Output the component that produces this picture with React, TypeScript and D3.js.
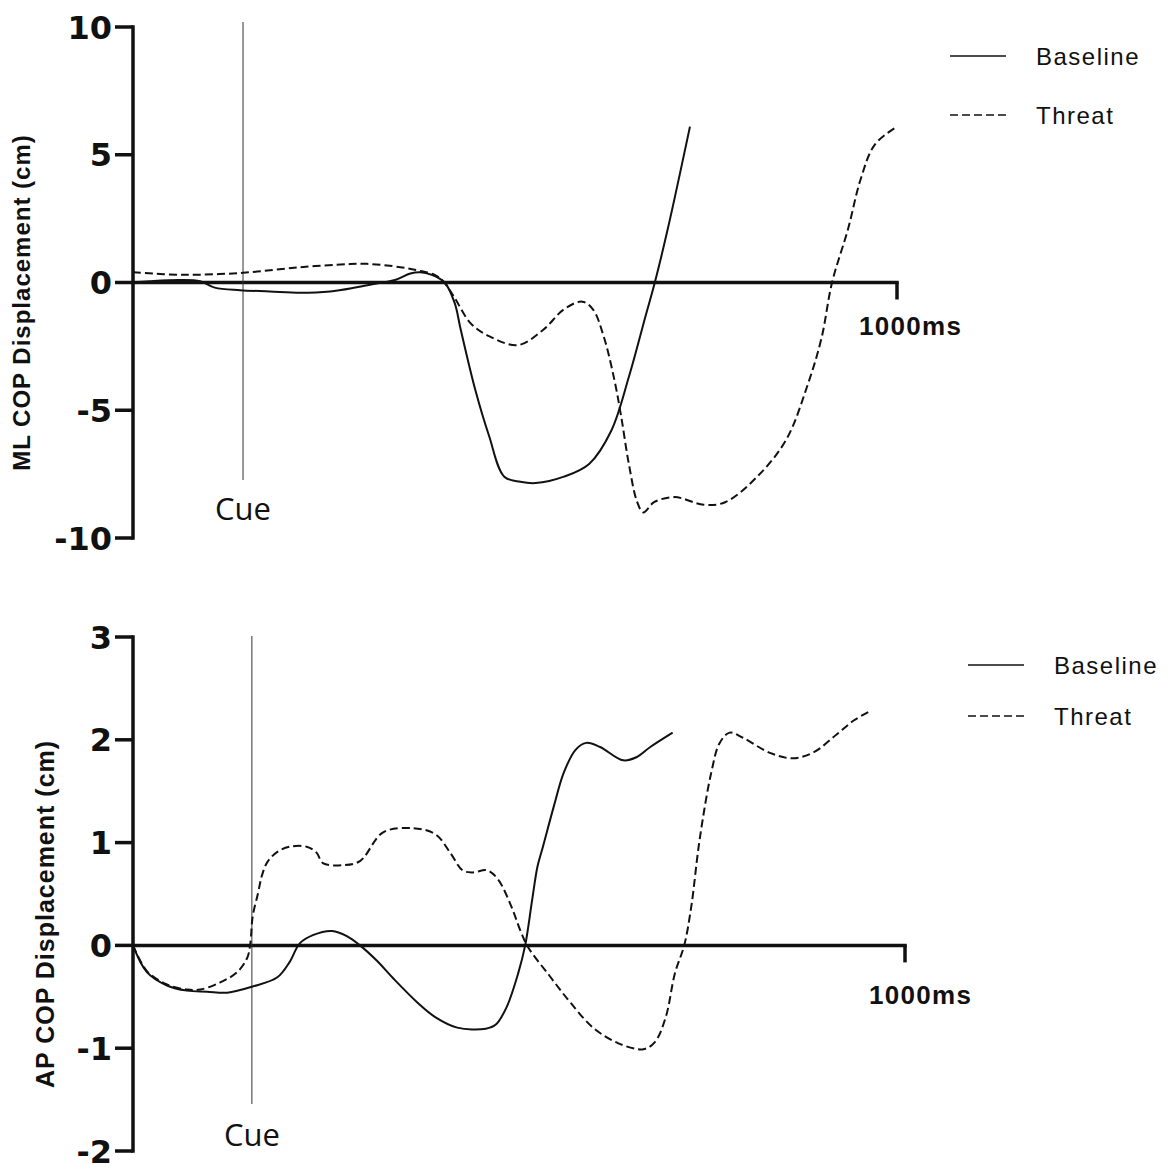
import React from 'react'
import * as d3 from 'd3'

// ---- top panel: medio-lateral COP (cm) vs time (ms) ----
const mlTicks = [-10, -5, 0, 5, 10]
const mlBaselineTime = [0, 22, 62, 88, 107, 140, 179, 219, 258, 291, 317, 343, 363, 376, 391, 408, 421, 429, 448, 466, 486, 507, 527, 564, 597, 626, 649, 671, 683, 700, 729]
const mlBaselineValue = [0, 0.05, 0.1, 0.05, -0.2, -0.3, -0.35, -0.4, -0.35, -0.2, -0.05, 0.1, 0.35, 0.4, 0.3, 0, -0.8, -1.85, -4.2, -6.0, -7.6, -7.8, -7.85, -7.6, -7.1, -5.8, -3.7, -1.3, 0, 2.1, 6.1]
const mlThreatTime = [0, 66, 144, 219, 284, 306, 350, 376, 395, 406, 420, 442, 466, 504, 537, 564, 588, 602, 616, 630, 639, 649, 660, 668, 682, 709, 747, 775, 817, 855, 882, 901, 915, 936, 952, 971, 1000]
const mlThreatValue = [0.4, 0.3, 0.38, 0.6, 0.72, 0.73, 0.6, 0.45, 0.3, 0.05, -0.55, -1.6, -2.1, -2.45, -1.85, -1.05, -0.75, -1.05, -2.1, -3.8, -5.25, -7.1, -8.6, -9.0, -8.6, -8.4, -8.7, -8.6, -7.6, -6.15, -4.1, -2.2, 0, 2.1, 4.0, 5.4, 6.1]

// ---- bottom panel: antero-posterior COP (cm) vs time (ms) ----
const apTicks = [-2, -1, 0, 1, 2, 3]
const apBaselineTime = [0, 18, 44, 70, 96, 122, 155, 187, 203, 216, 233, 258, 277, 294, 316, 337, 369, 392, 420, 457, 470, 484, 499, 508, 517, 524, 531, 545, 558, 573, 587, 605, 635, 652, 670, 699]
const apBaselineValue = [0, -0.26, -0.39, -0.44, -0.45, -0.46, -0.4, -0.31, -0.16, 0.02, 0.1, 0.14, 0.09, 0, -0.15, -0.32, -0.56, -0.7, -0.8, -0.81, -0.77, -0.6, -0.27, 0, 0.44, 0.77, 0.96, 1.35, 1.68, 1.9, 1.97, 1.93, 1.8, 1.83, 1.93, 2.07]
const apThreatTime = [0, 18, 44, 70, 87, 113, 135, 148, 152, 155, 162, 167, 174, 187, 203, 225, 238, 246, 272, 294, 324, 363, 392, 411, 427, 440, 459, 473, 490, 503, 512, 540, 567, 596, 628, 661, 676, 690, 702, 714, 723, 734, 749, 760, 773, 790, 826, 855, 882, 911, 934, 955]
const apThreatValue = [0, -0.25, -0.38, -0.43, -0.43, -0.36, -0.26, -0.12, 0.02, 0.28, 0.51, 0.68, 0.81, 0.91, 0.96, 0.96, 0.9, 0.8, 0.78, 0.82, 1.1, 1.14, 1.08, 0.9, 0.73, 0.71, 0.73, 0.64, 0.38, 0.12, -0.02, -0.3, -0.56, -0.8, -0.95, -1.01, -0.94, -0.7, -0.27, 0, 0.37, 1.03, 1.68, 1.97, 2.07, 2.02, 1.87, 1.82, 1.88, 2.05, 2.19, 2.28]

const legendLabels = ['Baseline', 'Threat']
const cueTimes = [144, 154]
const endLabel = '1000ms'

interface PanelConfig {
    top: number; bottom: number; left: number; right: number;
    domain: [number, number]; ticks: number[];
    yLabel: string; yLabelX: number; yLabelSize: number;
    legendX: number; legendY: number; legendGap: number;
    cueTop: number; cueBottom: number; cueTextY: number;
    unitX: number; unitY: number;
}

const mlConfig: PanelConfig = {
    top: 27, bottom: 538, left: 133, right: 897, domain: [-10, 10], ticks: mlTicks,
    yLabel: 'ML COP Displacement (cm)', yLabelX: 22, yLabelSize: 24,
    legendX: 950, legendY: 56, legendGap: 59,
    cueTop: 22, cueBottom: 480, cueTextY: 520,
    unitX: 859, unitY: 335,
}

const apConfig: PanelConfig = {
    top: 637, bottom: 1151, left: 133, right: 905, domain: [-2, 3], ticks: apTicks,
    yLabel: 'AP COP Displacement (cm)', yLabelX: 45, yLabelSize: 25,
    legendX: 968, legendY: 665, legendGap: 51,
    cueTop: 636, cueBottom: 1104, cueTextY: 1146,
    unitX: 869, unitY: 1004,
}

const zip = (t: number[], v: number[]) => t.map((d, i) => [d, v[i]] as [number, number])

const Panel = ({ cfg, baseline, threat, cue }: { cfg: PanelConfig, baseline: [number, number][], threat: [number, number][], cue: number }) => {
    const x = d3.scaleLinear().domain([0, 1000]).range([cfg.left, cfg.right])
    const y = d3.scaleLinear().domain(cfg.domain).range([cfg.bottom, cfg.top])
    const line = d3.line<[number, number]>()
        .x(d => x(d[0]))
        .y(d => y(d[1]))
        .curve(d3.curveCatmullRom.alpha(0.5))

    const axisW = 3.5
    return (
        <g>
            {/* y axis */}
            <line x1={cfg.left} x2={cfg.left} y1={y(cfg.domain[1]) - axisW / 2} y2={y(cfg.domain[0]) + axisW / 2} stroke="#111" strokeWidth={axisW} />
            {cfg.ticks.map(t => (
                <g key={t}>
                    <line x1={cfg.left - 18} x2={cfg.left} y1={y(t)} y2={y(t)} stroke="#111" strokeWidth={axisW} />
                    <text x={cfg.left - 21} y={y(t)} dy="0.36em" textAnchor="end"
                        fontFamily="'DejaVu Sans', sans-serif" fontWeight="bold" fontSize={32} fill="#111">{t}</text>
                </g>
            ))}
            <text transform={`translate(${cfg.yLabelX},${(y(cfg.domain[0]) + y(cfg.domain[1])) / 2 + 20}) rotate(-90)`}
                textAnchor="middle" dy="0.35em" fontFamily="'Liberation Sans', Arial, sans-serif" fontWeight="bold"
                fontSize={cfg.yLabelSize} letterSpacing={1} fill="#111">{cfg.yLabel}</text>

            {/* zero line with 1000 ms mark */}
            <line x1={cfg.left} x2={x(1000) + axisW / 2} y1={y(0)} y2={y(0)} stroke="#111" strokeWidth={axisW} />
            <line x1={x(1000)} x2={x(1000)} y1={y(0)} y2={y(0) + 17} stroke="#111" strokeWidth={axisW} />
            <text x={cfg.unitX} y={cfg.unitY} fontFamily="'Liberation Sans', Arial, sans-serif" fontWeight="bold"
                fontSize={26} letterSpacing={1.3} fill="#111">{endLabel}</text>

            {/* cue marker */}
            <line x1={x(cue)} x2={x(cue)} y1={cfg.cueTop} y2={cfg.cueBottom} stroke="#333" strokeWidth={1} />
            <text x={x(cue)} y={cfg.cueTextY} textAnchor="middle" fontFamily="'Open Sans', sans-serif"
                fontSize={31} fill="#111">Cue</text>

            {/* curves */}
            <path d={line(baseline) || ''} fill="none" stroke="#111" strokeWidth={2} />
            <path d={line(threat) || ''} fill="none" stroke="#111" strokeWidth={2} strokeDasharray="8,4" />

            {/* legend */}
            {legendLabels.map((l, i) => (
                <g key={l} transform={`translate(${cfg.legendX},${cfg.legendY + i * cfg.legendGap})`}>
                    <line x1={0} x2={56} y1={0} y2={0} stroke="#111" strokeWidth={1.6} strokeDasharray={i === 0 ? undefined : '8,4'} />
                    <text x={86} y={0} dy="0.36em" fontFamily="'Liberation Sans', Arial, sans-serif"
                        fontSize={24} letterSpacing={1.5} fill="#111">{l}</text>
                </g>
            ))}
        </g>
    )
}

export default function App() {
    return (
        <svg width={1171} height={1169} style={{ position: 'absolute', left: 0, top: 0, background: '#fff' }}>
            <rect width={1171} height={1169} fill="#fff" />
            <Panel cfg={mlConfig} baseline={zip(mlBaselineTime, mlBaselineValue)} threat={zip(mlThreatTime, mlThreatValue)} cue={cueTimes[0]} />
            <Panel cfg={apConfig} baseline={zip(apBaselineTime, apBaselineValue)} threat={zip(apThreatTime, apThreatValue)} cue={cueTimes[1]} />
        </svg>
    )
}
